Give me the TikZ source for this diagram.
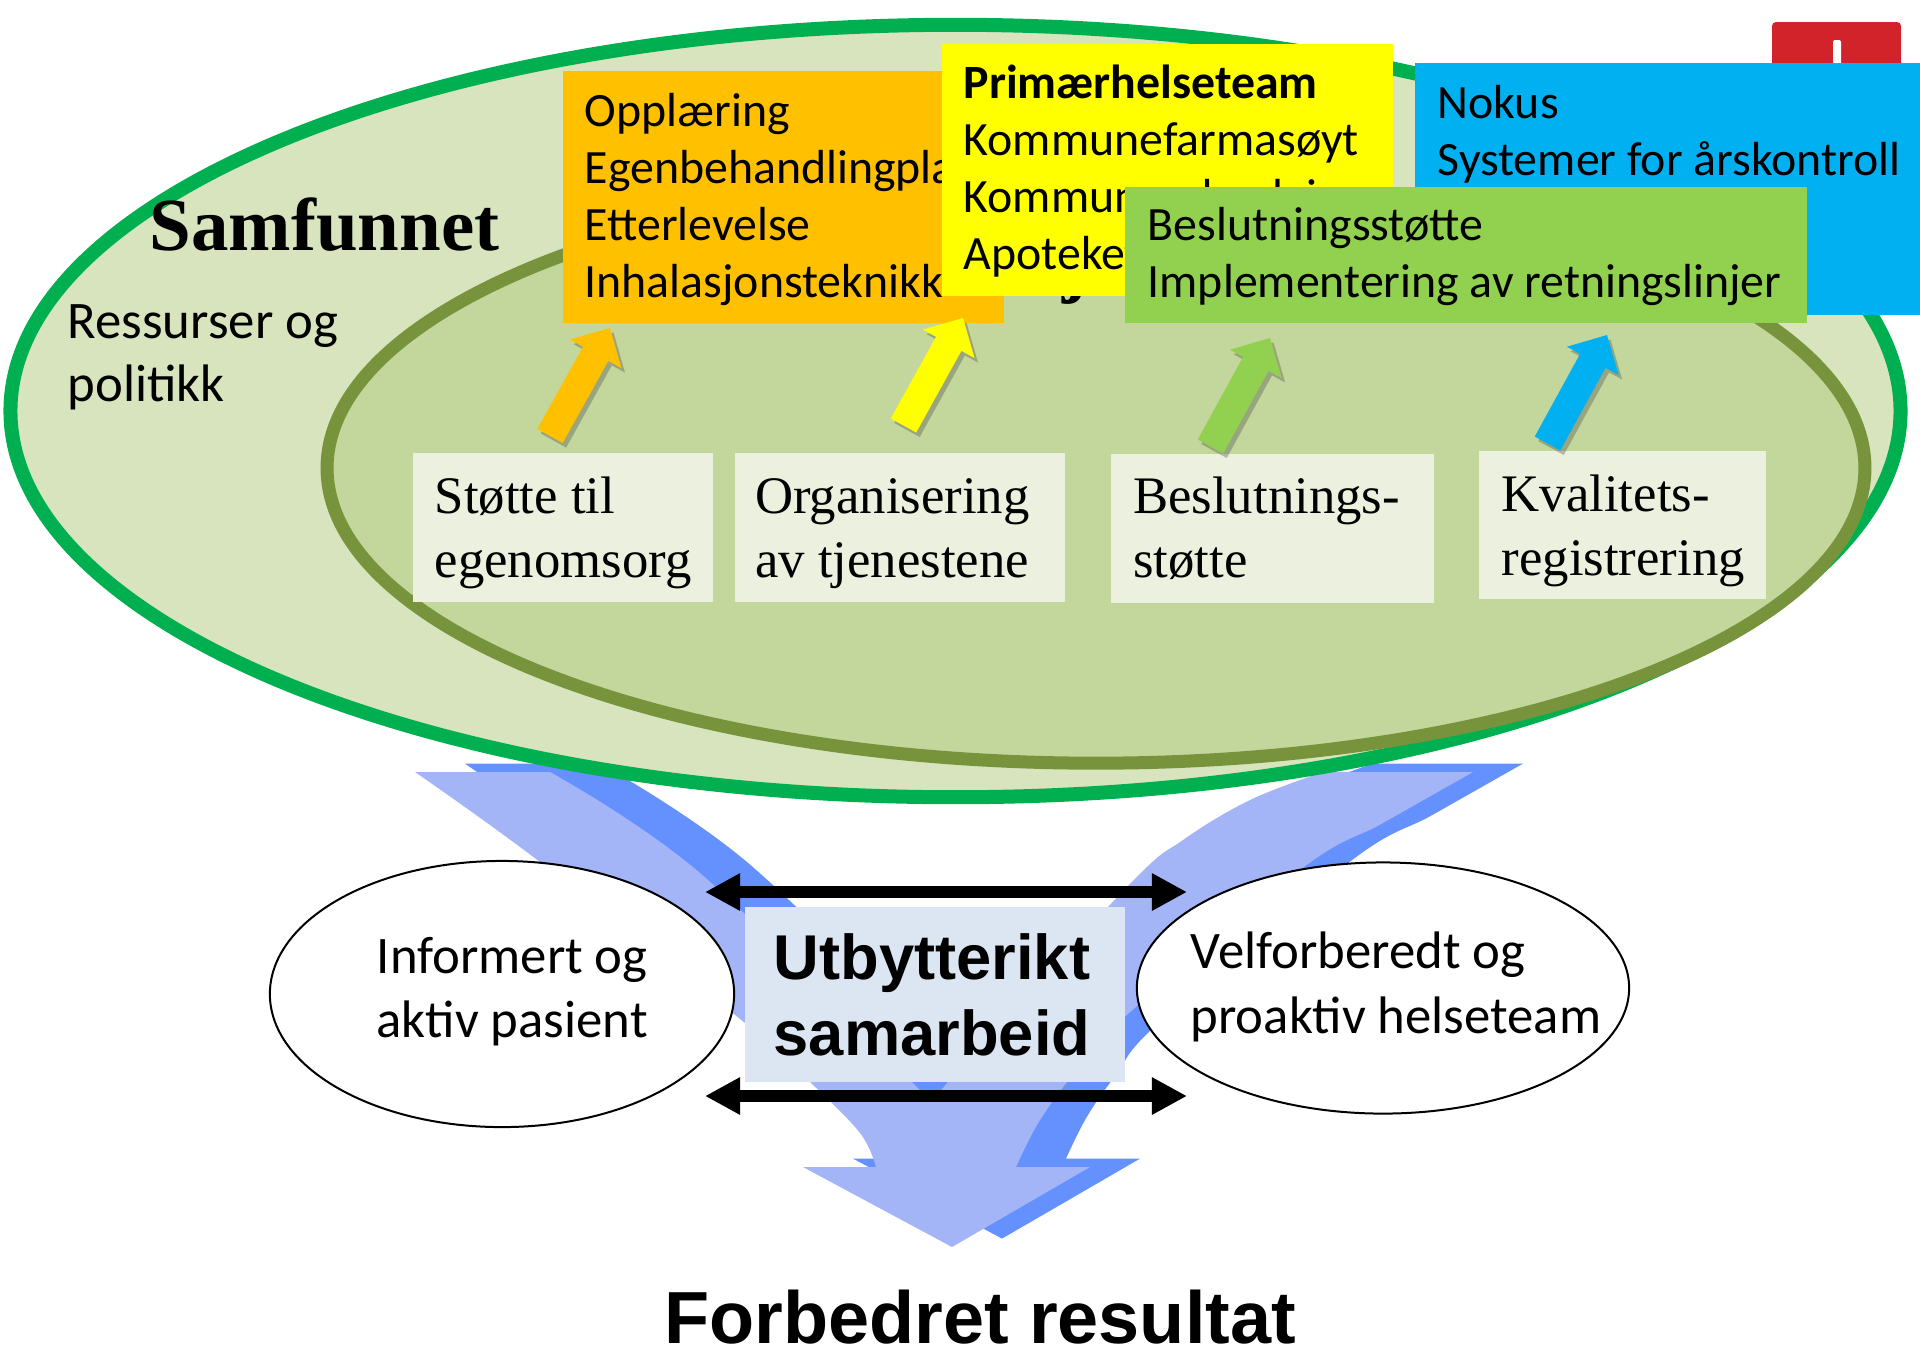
\documentclass[tikz,border=0pt]{standalone}
\usepackage{fontspec}
\setmainfont{Carlito}
\newfontfamily\timesf{Liberation Serif}
\newfontfamily\arialf{Liberation Sans}
\usetikzlibrary{calc,fit,arrows.meta,shadows,shapes.geometric}

\definecolor{outerfill}{HTML}{D7E4BD}
\definecolor{outerline}{HTML}{00B050}
\definecolor{innerfill}{HTML}{C3D69B}
\definecolor{innerline}{HTML}{77933C}
\definecolor{boxorange}{HTML}{FFC000}
\definecolor{boxyellow}{HTML}{FFFF00}
\definecolor{boxgreen}{HTML}{92D050}
\definecolor{boxblue}{HTML}{00B0F0}
\definecolor{logored}{HTML}{D2232A}
\definecolor{smallfill}{HTML}{EBF1DE}
\definecolor{centerfill}{HTML}{DCE6F2}
\definecolor{vlight}{HTML}{A4B5F7}
\definecolor{vdark}{HTML}{6491FE}

\newcommand{\blockarrow}[3]{%
  \coordinate (hb) at ($(#2)!0.295cm!(#1)$);
  \fill[#3, drop shadow={shadow xshift=0.035cm, shadow yshift=-0.045cm, opacity=0.35, fill=black!70}]
    ($(#1)!0.145cm!90:(#2)$) -- ($(hb)!0.145cm!90:(#2)$) -- ($(hb)!0.295cm!90:(#2)$) -- (#2)
    -- ($(hb)!0.295cm!-90:(#2)$) -- ($(hb)!0.145cm!-90:(#2)$) -- ($(#1)!0.145cm!-90:(#2)$) -- cycle;
}

\begin{document}
\begin{tikzpicture}[x=0.01cm,y=-0.01cm,
  cal/.style={font=\fontsize{13.6}{16.2}\selectfont, align=left, inner sep=0, anchor=base west},
  serifbox/.style={font=\timesf\fontsize{15}{18.2}\selectfont, align=left, inner sep=0, anchor=base west},
  elltext/.style={font=\fontsize{15}{18.4}\selectfont, align=left, inner sep=0, anchor=base west},
  bigbox/.style={inner sep=0, outer sep=0},
  smallbox/.style={inner sep=0, outer sep=0, fill=smallfill},
  bothead/.style={line width=0.12cm, {Triangle[length=0.35cm,width=0.35cm]}-{Triangle[length=0.35cm,width=0.35cm]}}]
\useasboundingbox (0,0) rectangle (1920,1347);

% converging blue arrow (shadow, then face)
\foreach \dx/\dy/\col in {50/-8.4/vdark, 0/0/vlight} {
  \fill[\col, shift={(\dx,\dy)}] (415,772) -- (550,772)
    -- plot[smooth,tension=0.6] coordinates {(550,772) (700,873) (912,1082) (932,1110)}
    -- plot[smooth,tension=0.6] coordinates {(932,1110) (948,1082) (1127,887) (1183,840) (1250,800) (1323,772)}
    -- (1473,772)
    -- plot[smooth,tension=0.6] coordinates {(1473,772) (1383,823) (1300,870) (1110,1030) (1067,1082) (1037,1125) (1016,1167)}
    -- (1090,1167) -- (952,1247) -- (803,1167) -- (876,1167)
    -- plot[smooth,tension=0.6] coordinates {(876,1167) (860,1133) (810,1082) (745,1023) (540,862) (415,772)}
    -- cycle;
}

% ellipses
\draw[outerline, line width=0.14cm, fill=outerfill] (955.5,411) ellipse [x radius=9.445cm, y radius=3.86cm];
\draw[innerline, line width=0.13cm, fill=innerfill] (1096,468) ellipse [x radius=7.685cm, y radius=2.95cm];

% hidden title of the inner ellipse (only a descender shows)
\node[font=\timesf\bfseries\fontsize{21.3}{25}\selectfont, inner sep=0, anchor=base west] (hstitle) at (862,288) {Helsetjenesten};

% logo
\node[fit={(1772,22) (1901,140)}, bigbox, fill=logored, rounded corners=0.04cm] (logo) {};
\node[fit={(1833,40) (1841,100)}, bigbox, fill=white, rounded corners=0.02cm] (logobar) {};

% coloured boxes (text anchors sit on the last line's baseline)
\node[fit={(563,71) (1004,323)}, bigbox, fill=boxorange] (orangebox) {};
\node[cal] (orangetext) at (584,297.7) {Opplæring\\Egenbehandlingplan\\Etterlevelse\\Inhalasjonsteknikk};
\node[fit={(942,44) (1393,296)}, bigbox, fill=boxyellow] (yellowbox) {};
\node[cal] (yellowtext) at (963,269) {\textbf{Primærhelseteam}\\Kommunefarmasøyt\\Kommunesykepleier\\Apoteket};
\node[fit={(1415,63) (1920,315)}, bigbox, fill=boxblue] (bluebox) {};
\node[cal] (bluetext) at (1437,175) {Nokus\\Systemer for årskontroll};
\node[fit={(1125,187) (1807,323)}, bigbox, fill=boxgreen] (greenbox) {};
\node[cal] (greentext) at (1147,297) {Beslutningsstøtte\\Implementering av retningslinjer};

% titles
\node[font=\timesf\bfseries\fontsize{21.3}{25}\selectfont, inner sep=0, anchor=base west] (samfunnet) at (149,250) {Samfunnet};
\node[font=\fontsize{15}{17.9}\selectfont, align=left, inner sep=0, anchor=base west] (ressurser) at (67,401.7) {Ressurser og\\politikk};

% small boxes
\node[fit={(413,453) (713,602)}, smallbox] (b1) {};
\node[serifbox] (b1t) at (434,577) {Støtte til\\egenomsorg};
\node[fit={(735,453) (1065,602)}, smallbox] (b2) {};
\node[serifbox] (b2t) at (754.5,577) {Organisering\\av tjenestene};
\node[fit={(1111,454) (1434,603)}, smallbox] (b3) {};
\node[serifbox] (b3t) at (1132.5,577) {Beslutnings-\\støtte};
\node[fit={(1479,451) (1766,599)}, smallbox] (b4) {};
\node[serifbox] (b4t) at (1501,575.5) {Kvalitets-\\registrering};

% coloured block arrows
\coordinate (oa) at (550,436);    \coordinate (ob) at (610,328);
\coordinate (ya) at (903.5,425.5); \coordinate (yb) at (963,318);
\coordinate (ga) at (1210.5,446.5); \coordinate (gb) at (1270,338);
\coordinate (ba) at (1547.5,443.5); \coordinate (bb) at (1607,335);
\blockarrow{oa}{ob}{boxorange}
\blockarrow{ya}{yb}{boxyellow}
\blockarrow{ga}{gb}{boxgreen}
\blockarrow{ba}{bb}{boxblue}

% patient and team ellipses
\node[ellipse, draw, line width=0.02cm, fill=white, minimum width=4.64cm, minimum height=2.66cm, inner sep=0] (patient) at (502,994) {};
\node[elltext] (patienttext) at (376,1037.7) {Informert og\\aktiv pasient};
\node[ellipse, draw, line width=0.02cm, fill=white, minimum width=4.92cm, minimum height=2.51cm, inner sep=0] (team) at (1383,988) {};
\node[elltext] (teamtext) at (1190,1033) {Velforberedt og\\proaktiv helseteam};

% centre box
\node[fit={(745,907) (1125,1082)}, bigbox, fill=centerfill] (centre) {};
\node[font=\arialf\bfseries\fontsize{18}{21.6}\selectfont, align=center, inner sep=0, anchor=base] (centretext) at (932,1055) {Utbytterikt\\samarbeid};

% double arrows
\coordinate (u1) at (705,892); \coordinate (u2) at (1187,892);
\coordinate (l1) at (705,1096); \coordinate (l2) at (1187,1096);
\draw[bothead] (u1) -- (u2);
\draw[bothead] (l1) -- (l2);

% result
\node[font=\arialf\bfseries\fontsize{21}{25}\selectfont, inner sep=0, anchor=base] (result) at (980,1343) {Forbedret resultat};
\end{tikzpicture}
\end{document}
